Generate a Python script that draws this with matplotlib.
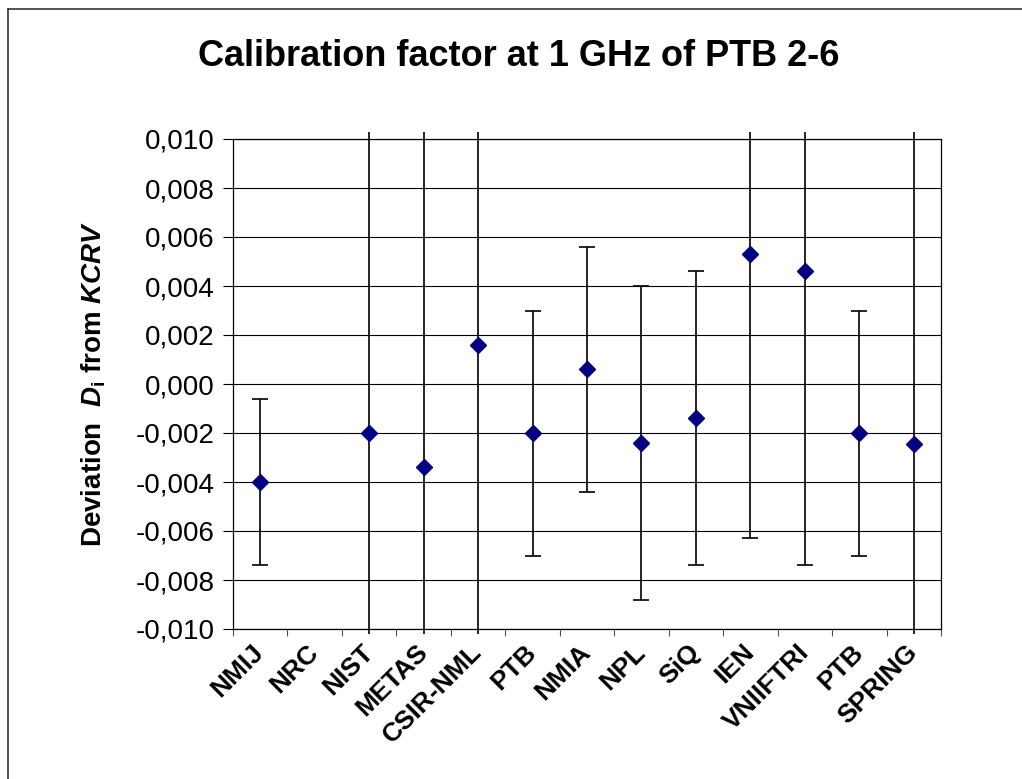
import numpy as np
import matplotlib
matplotlib.use("Agg")
import matplotlib.pyplot as plt
from matplotlib.lines import Line2D
from matplotlib.transforms import Bbox, TransformedBbox
from matplotlib.ticker import FuncFormatter

plt.rcParams['font.family'] = ['Liberation Sans', 'DejaVu Sans']
plt.rcParams['mathtext.fontset'] = 'custom'
plt.rcParams['mathtext.rm'] = 'Liberation Sans:bold'
plt.rcParams['mathtext.it'] = 'Liberation Sans:italic:bold'
plt.rcParams['mathtext.bf'] = 'Liberation Sans:bold'
plt.rcParams['mathtext.bfit'] = 'Liberation Sans:italic:bold'

labs = ["NMIJ", "NRC", "NIST", "METAS", "CSIR-NML", "PTB", "NMIA",
        "NPL", "SiQ", "IEN", "VNIIFTRI", "PTB", "SPRING"]
deviation = [-0.0040, np.nan, -0.0020, -0.0034, 0.0016, -0.0020, 0.0006,
             -0.0024, -0.0014, 0.0053, 0.0046, -0.0020, -0.00245]
uncert = [0.0034, np.nan, 0.015, 0.016, 0.014, 0.0050, 0.0050,
          0.0064, 0.0060, 0.0116, 0.0120, 0.0050, 0.015]
yticks = [-0.010, -0.008, -0.006, -0.004, -0.002, 0.000,
          0.002, 0.004, 0.006, 0.008, 0.010]

fig = plt.figure(figsize=(10.22, 7.79), dpi=100)
ax = fig.add_axes([233/1022, 1-629/779, (941-233)/1022, (629-139)/779])

x = np.arange(len(labs))
eb = ax.errorbar(x, deviation, yerr=uncert, fmt='D', color='#000080',
                 markersize=8, ecolor='black', elinewidth=1.2,
                 capsize=5.5, capthick=1.2, zorder=3)

ax.set_xlim(-0.5, len(labs) - 0.5)
ax.set_ylim(-0.010, 0.010)
clipbox = TransformedBbox(Bbox([[-0.5, -0.01020], [len(labs) - 0.5, 0.01030]]),
                          ax.transData)
for art in list(eb.lines[1]) + list(eb.lines[2]):
    art.set_clip_path(None)
    art.set_clip_box(clipbox)

ax.set_yticks(yticks)
ax.yaxis.set_major_formatter(FuncFormatter(lambda v, p: f"{v:.3f}".replace('.', ',').replace('-0,000', '0,000')))
ax.grid(axis='y', color='black', linewidth=0.8)
ax.set_axisbelow(True)

ax.set_xticks(np.arange(len(labs) + 1) - 0.5)
ax.set_xticklabels([])
ax.set_xticks(x, minor=True)
ax.set_xticklabels(labs, minor=True, rotation=45, ha='right', va='center',
                   rotation_mode='anchor', fontsize=19, fontweight='bold')
ax.tick_params(axis='x', which='major', direction='out', length=5, width=0.8, color='#555555')
ax.tick_params(axis='x', which='minor', length=0, pad=14)
ax.tick_params(axis='y', direction='out', length=7, width=0.8, labelsize=20, pad=6)

for s in ax.spines.values():
    s.set_color('black')
    s.set_linewidth(0.9)

fig.text(0.508, 0.928, "Calibration factor at 1 GHz of PTB 2-6",
         ha='center', va='center', fontsize=26, fontweight='bold')
fig.text(0.092, 0.507, r"Deviation  $D_{\mathrm{i}}$ from $KCRV$",
         ha='center', va='center', rotation=90, fontsize=20, fontweight='bold')

fig.add_artist(Line2D([7.5/1022, 7.5/1022], [0, 1-8.5/779], transform=fig.transFigure,
                      color='#333333', linewidth=1.2))
fig.add_artist(Line2D([7.5/1022, 1], [1-8.5/779, 1-8.5/779], transform=fig.transFigure,
                      color='#333333', linewidth=1.2))

fig.savefig("out.png", dpi=100, facecolor='white')
